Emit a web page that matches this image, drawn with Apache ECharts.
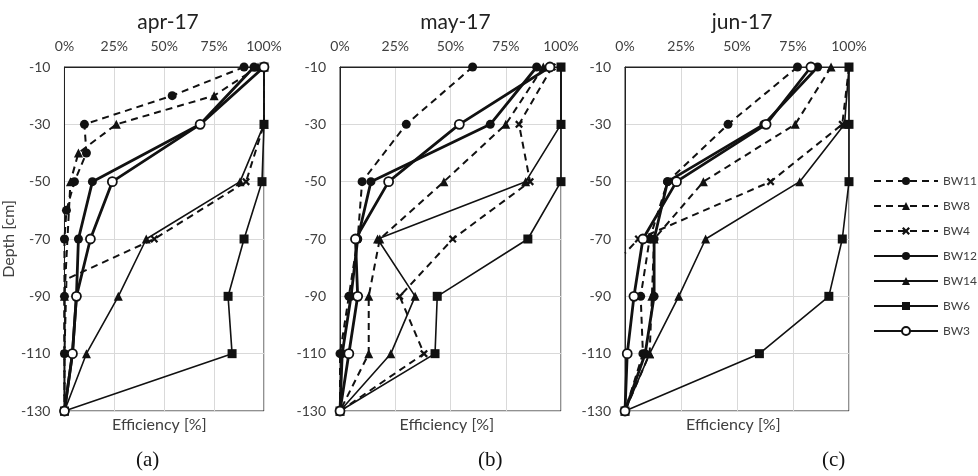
<!DOCTYPE html>
<html><head><meta charset="utf-8">
<script src="https://cdn.jsdelivr.net/npm/echarts@6/dist/echarts.min.js"></script>
<style>html,body{margin:0;padding:0;background:#fff}#c{width:978px;height:476px}</style>
</head><body><div id="c"></div>
<script>
// Tick labels
const depthTicks = [-130, -110, -90, -70, -50, -30, -10];
const effTicks = [0, 25, 50, 75, 100];
const panelTitles = ['apr-17', 'may-17', 'jun-17'];
const panelTags = ['(a)', '(b)', '(c)'];
const seriesNames = ['BW11', 'BW8', 'BW4', 'BW12', 'BW14', 'BW6', 'BW3'];

// [efficiency %, depth cm, (optional 0 = no marker)]
const aprBW11 = [[90,-10],[54,-20],[10,-30],[11,-40],[5,-50],[1,-60],[0,-70],[0,-90],[0,-110],[0,-130]];
const aprBW8  = [[97,-10],[75,-20],[26,-30],[7,-40],[3,-50],[0,-90],[0,-130]];
const aprBW4  = [[100,-10],[100,-30],[91,-50],[45,-70],[1,-84,0],[0,-110],[0,-130]];
const aprBW12 = [[95,-10],[68,-30],[14,-50],[7,-70],[6,-90],[4,-110],[0,-130]];
const aprBW14 = [[100,-10],[100,-30],[88,-50],[41,-70],[27,-90],[11,-110],[0,-130]];
const aprBW6  = [[100,-10],[100,-30],[99,-50],[90,-70],[82,-90],[84,-110],[0,-130]];
const aprBW3  = [[100,-10],[68,-30],[24,-50],[13,-70],[6,-90],[4,-110],[0,-130]];

const mayBW11 = [[60,-10],[30,-30],[10,-50],[8,-70],[4,-90],[0,-110],[0,-130]];
const mayBW8  = [[92,-10],[75,-30],[47,-50],[18,-70],[13,-90],[13,-110],[0,-130]];
const mayBW4  = [[96,-10],[81,-30],[86,-50],[51,-70],[27,-90],[38,-110],[0,-130]];
const mayBW12 = [[89,-10],[68,-30],[14,-50],[8,-70],[5,-90],[1,-110],[0,-130]];
const mayBW14 = [[100,-10],[100,-30],[84,-50],[17,-70],[34,-90],[23,-110],[0,-130]];
const mayBW6  = [[100,-10],[100,-30],[100,-50],[85,-70],[44,-90],[43,-110],[0,-130]];
const mayBW3  = [[95,-10],[54,-30],[22,-50],[7,-70],[8,-90],[4,-110],[0,-130]];

const junBW11 = [[77,-10],[46,-30],[19,-50],[11,-70],[7,-90],[8,-110],[0,-130]];
const junBW8  = [[92,-10],[76,-30],[35,-50],[13,-70],[12,-90],[11,-110],[0,-130]];
const junBW4  = [[100,-10],[97,-30],[65,-50],[6,-70],[0,-75,0]];
const junBW12 = [[86,-10],[62,-30],[19,-50],[13,-70],[13,-90],[9,-110],[0,-130]];
const junBW14 = [[100,-10],[98,-30],[78,-50],[36,-70],[24,-90],[11,-110],[0,-130]];
const junBW6  = [[100,-10],[100,-30],[100,-50],[97,-70],[91,-90],[60,-110],[0,-130]];
const junBW3  = [[83,-10],[63,-30],[23,-50],[8,-70],[4,-90],[1,-110],[0,-130]];

const panels = [
  [aprBW11, aprBW8, aprBW4, aprBW12, aprBW14, aprBW6, aprBW3],
  [mayBW11, mayBW8, mayBW4, mayBW12, mayBW14, mayBW6, mayBW3],
  [junBW11, junBW8, junBW4, junBW12, junBW14, junBW6, junBW3]
];

const crossPath = 'path://M2,0 L5,3 L8,0 L10,2 L7,5 L10,8 L8,10 L5,7 L2,10 L0,8 L3,5 L0,2 Z';
const styles = {
  BW11: {symbol:'circle', size:9, width:2, type:[7,5]},
  BW8:  {symbol:'triangle', size:9, width:2, type:[7,5]},
  BW4:  {symbol:crossPath, size:8, width:2, type:[7,5]},
  BW12: {symbol:'circle', size:9, width:2.8, type:'solid'},
  BW14: {symbol:'triangle', size:9, width:1.6, type:'solid'},
  BW6:  {symbol:'rect', size:9, width:1.6, type:'solid'},
  BW3:  {symbol:'circle', size:9, width:2.8, type:'solid', open:true}
};

const grids = [
  {left:62, top:67, width:202, height:344},
  {left:340, top:67, width:221, height:344},
  {left:625, top:67, width:224, height:344}
];
const FONT = 'Lato';
const txt = '#404040';

const option = {
  animation:false,
  textStyle:{fontFamily:FONT},
  title: panelTitles.map((t,i)=>({
    text:t, left:grids[i].left + grids[i].width/2, top:7, textAlign:'center',
    textStyle:{fontFamily:FONT, fontSize:21, fontWeight:'normal', color:'#222'}
  })),
  legend:{
    orient:'vertical', left:868, top:170, itemWidth:64, itemHeight:10, itemGap:13,
    data:seriesNames, textStyle:{fontFamily:FONT, fontSize:12, color:txt}, selectedMode:false
  },
  grid: grids.map(g=>Object.assign({show:true, borderColor:'#222', borderWidth:1}, g)),
  xAxis: grids.map((g,i)=>({
    type:'value', gridIndex:i, position:'top', min:0, max:100, interval:25,
    axisLine:{show:true, lineStyle:{color:'#222', width:1}},
    axisTick:{show:false},
    splitLine:{show:true, lineStyle:{color:'#d9d9d9', width:1}},
    axisLabel:{formatter:v=>v+'%', fontSize:14, color:txt, margin:14, fontFamily:FONT}
  })),
  yAxis: grids.map((g,i)=>({
    type:'value', gridIndex:i, min:depthTicks[0], max:depthTicks[depthTicks.length-1], interval:20,
    name: i===0 ? 'Depth [cm]' : '', nameLocation:'middle', nameGap:45, nameRotate:90,
    nameTextStyle:{fontSize:16, color:txt, fontFamily:FONT},
    axisLine:{show:true, lineStyle:{color:'#222', width:1}},
    axisTick:{show:false},
    splitLine:{show:true, lineStyle:{color:'#d9d9d9', width:1}},
    axisLabel:{fontSize:14, color:txt, margin:14, fontFamily:FONT}
  })),
  graphic: [].concat(
    grids.map(g=>({type:'text', left:g.left + g.width/2 - 51, top:417,
      style:{text:'Efficiency [%]', font:'16px '+FONT, fill:txt}})),
    grids.map((g,i)=>({type:'text', left:[136,478,822][i], top:450,
      style:{text:panelTags[i], font:'21px "Liberation Serif"', fill:'#111'}}))
  ),
  series: []
};

panels.forEach((arrs,pi)=>{
  arrs.forEach((arr,si)=>{
    const name = seriesNames[si];
    const st = styles[name];
    option.series.push({
      type:'line', name:name, xAxisIndex:pi, yAxisIndex:pi, clip:false,
      symbol:st.symbol, symbolSize:st.size, showAllSymbol:true,
      z: st.open ? 4 : 3,
      lineStyle:{color:'#111', width:st.width, type:st.type},
      itemStyle:{color: st.open ? '#fff' : '#111', borderColor:'#111', borderWidth: st.open ? 1.8 : 0},
      data: arr.map(p => p.length > 2 ? {value:[p[0],p[1]], symbol:'none'} : [p[0],p[1]])
    });
  });
});

const chart = echarts.init(document.getElementById('c'));
chart.setOption(option);
</script>
</body></html>
